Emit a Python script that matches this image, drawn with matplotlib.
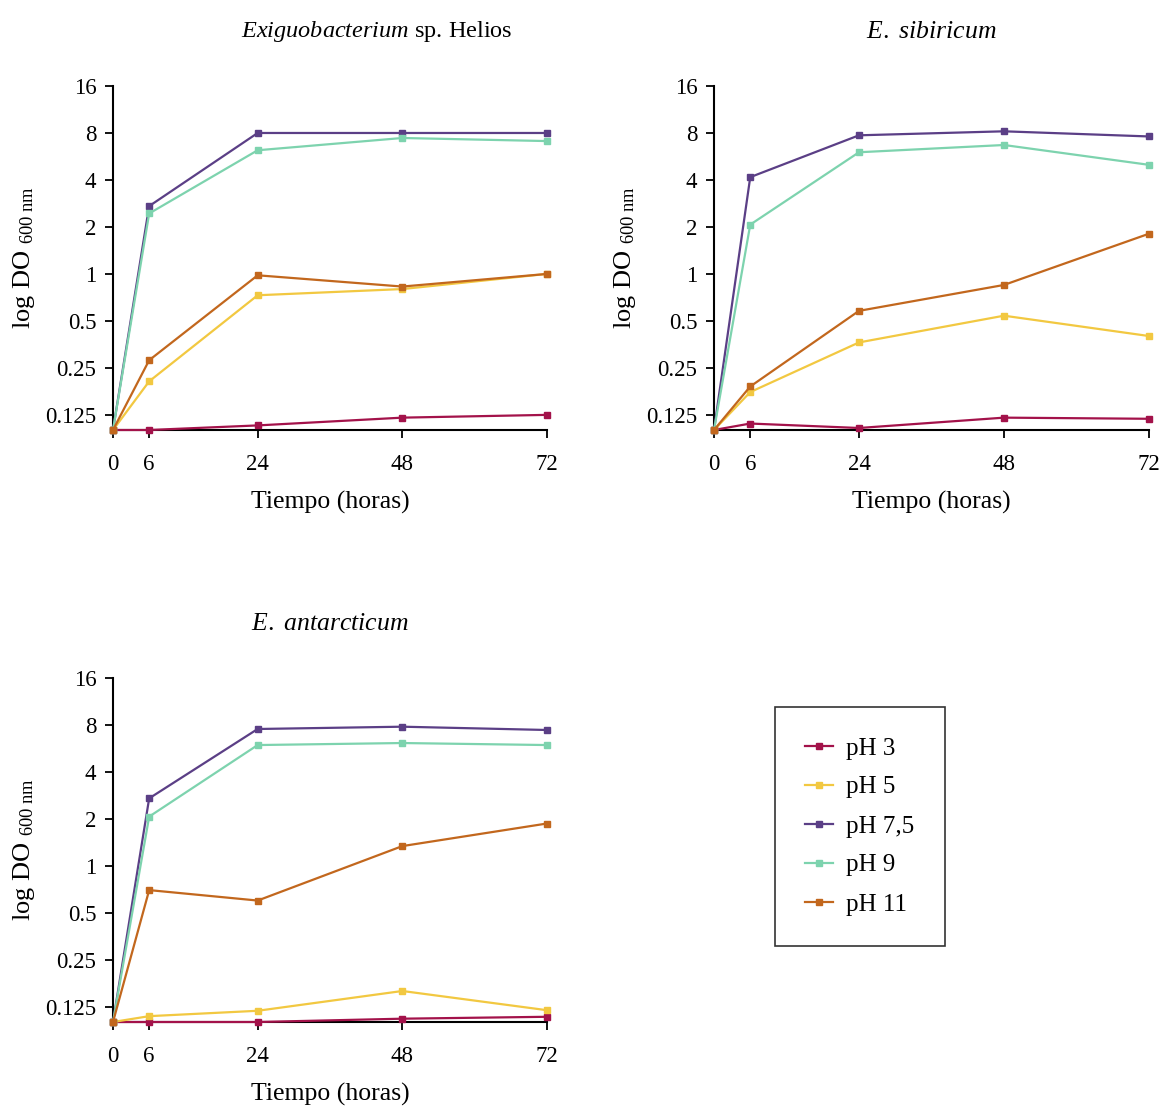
import matplotlib
matplotlib.use("Agg")
import matplotlib.pyplot as plt
from matplotlib.ticker import FixedLocator, FixedFormatter, NullLocator

# ---- data ----
hours = [0, 6, 24, 48, 72]
series_labels = ["pH 3", "pH 5", "pH 7,5", "pH 9", "pH 11"]
colors = ["#A3124A", "#F2C841", "#5B3F86", "#7DD3AE", "#C2671D"]

helios_ph3 = [0.1, 0.1, 0.107, 0.120, 0.125]
helios_ph5 = [0.1, 0.205, 0.73, 0.80, 1.0]
helios_ph75 = [0.1, 2.72, 8.0, 8.0, 8.0]
helios_ph9 = [0.1, 2.44, 6.2, 7.43, 7.1]
helios_ph11 = [0.1, 0.28, 0.98, 0.83, 1.0]

sibiricum_ph3 = [0.1, 0.110, 0.103, 0.120, 0.118]
sibiricum_ph5 = [0.1, 0.175, 0.364, 0.54, 0.40]
sibiricum_ph75 = [0.1, 4.17, 7.73, 8.2, 7.6]
sibiricum_ph9 = [0.1, 2.07, 6.02, 6.7, 5.0]
sibiricum_ph11 = [0.1, 0.19, 0.58, 0.85, 1.81]

antarcticum_ph3 = [0.1, 0.1, 0.1, 0.105, 0.108]
antarcticum_ph5 = [0.1, 0.109, 0.118, 0.158, 0.119]
antarcticum_ph75 = [0.1, 2.71, 7.54, 7.8, 7.43]
antarcticum_ph9 = [0.1, 2.07, 5.95, 6.13, 5.95]
antarcticum_ph11 = [0.1, 0.70, 0.60, 1.34, 1.87]

ytick_values = [0.125, 0.25, 0.5, 1, 2, 4, 8, 16]
ytick_labels = ["0.125", "0.25", "0.5", "1", "2", "4", "8", "16"]
xtick_labels = ["0", "6", "24", "48", "72"]

titles = [r"$\mathit{Exiguobacterium}$ sp. Helios", r"$\mathit{E.\ sibiricum}$", r"$\mathit{E.\ antarcticum}$"]
panel_data = [
    [helios_ph3, helios_ph5, helios_ph75, helios_ph9, helios_ph11],
    [sibiricum_ph3, sibiricum_ph5, sibiricum_ph75, sibiricum_ph9, sibiricum_ph11],
    [antarcticum_ph3, antarcticum_ph5, antarcticum_ph75, antarcticum_ph9, antarcticum_ph11],
]

# ---- style ----
plt.rcParams["font.family"] = ["Liberation Serif", "DejaVu Serif"]
plt.rcParams["mathtext.fontset"] = "custom"
plt.rcParams["mathtext.rm"] = "Liberation Serif"
plt.rcParams["mathtext.it"] = "Liberation Serif:italic"

W, H = 1163, 1106
fig = plt.figure(figsize=(W / 100, H / 100), dpi=100)

# axes rects in pixels: (x0, x72, y16, ybottom)
rects = [(113, 547, 86, 430), (714, 1149, 86, 430), (113, 547, 678, 1022)]
title_pos = [(377, 32), (931, 32), (330, 624)]
title_sizes = [17.5, 18.5, 18.5]

for i, (data, rect) in enumerate(zip(panel_data, rects)):
    x0, x1, yt, yb = rect
    ax = fig.add_axes([x0 / W, 1 - yb / H, (x1 - x0) / W, (yb - yt) / H])
    for vals, lab, c in zip(data, series_labels, colors):
        ax.plot(hours, vals, color=c, lw=1.6, marker="s", ms=5, label=lab,
                clip_on=False, zorder=3)
    ax.set_yscale("log", base=2)
    ax.set_ylim(0.1, 16)
    ax.set_xlim(0, 72)
    ax.yaxis.set_major_locator(FixedLocator(ytick_values))
    ax.yaxis.set_major_formatter(FixedFormatter(ytick_labels))
    ax.yaxis.set_minor_locator(NullLocator())
    ax.set_xticks(hours)
    ax.set_xticklabels(xtick_labels)
    for s in ["top", "right"]:
        ax.spines[s].set_visible(False)
    for s in ["left", "bottom"]:
        ax.spines[s].set_linewidth(1.5)
        ax.spines[s].set_zorder(2)
    ax.tick_params(axis="both", direction="out", length=6, width=1.3,
                   labelsize=16.5)
    ax.tick_params(axis="x", pad=11)
    ax.tick_params(axis="y", pad=6)
    ax.set_xlabel("Tiempo (horas)", fontsize=18.5, labelpad=12)
    ax.set_ylabel(r"log DO $_{\mathregular{600\ nm}}$", fontsize=19, labelpad=6)
    tx, ty = title_pos[i]
    fig.text(tx / W, 1 - ty / H, titles[i], ha="center", va="center",
             fontsize=title_sizes[i])
    if i == 2:
        handles, labels = ax.get_legend_handles_labels()

leg = fig.legend(handles, labels, loc="upper left",
                 bbox_to_anchor=(775 / W, 1 - 707 / H), fontsize=18,
                 frameon=True, fancybox=False, edgecolor="black",
                 handlelength=1.1, labelspacing=0.66, borderpad=1.2,
                 handletextpad=0.55, markerscale=0.9, borderaxespad=0)
leg.get_frame().set_linewidth(1.2)

fig.savefig("out.png", dpi=100, facecolor="white")
